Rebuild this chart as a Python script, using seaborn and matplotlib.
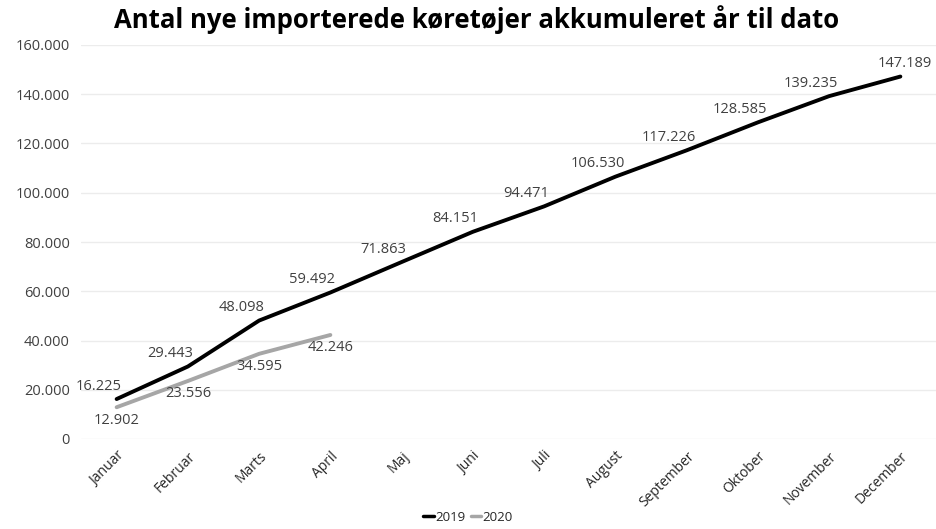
import pandas as pd
import matplotlib.pyplot as plt
import seaborn as sns
from matplotlib.lines import Line2D

months = ["Januar", "Februar", "Marts", "April", "Maj", "Juni", "Juli",
          "August", "September", "Oktober", "November", "December"]
values_2019 = [16225, 29443, 48098, 59492, 71863, 84151, 94471,
               106530, 117226, 128585, 139235, 147189]
values_2020 = [12902, 23556, 34595, 42246]

df = pd.concat([
    pd.DataFrame({"month": months, "value": values_2019, "year": "2019"}),
    pd.DataFrame({"month": months[:4], "value": values_2020, "year": "2020"}),
])
df["pos"] = df["month"].map({m: i for i, m in enumerate(months)})

sns.set_style("white")
plt.rcParams["font.family"] = ["Open Sans", "DejaVu Sans"]

fig = plt.figure(figsize=(9.36, 5.29), dpi=100)
ax = fig.add_axes([81 / 936, 1 - 439 / 529, 855 / 936, 394 / 529])

palette = {"2019": "#000000", "2020": "#a6a6a6"}
sns.lineplot(data=df, x="pos", y="value", hue="year", palette=palette,
             linewidth=2.8, ax=ax, legend=False)


def fmt(v):
    return f"{v:,}".replace(",", ".")


ax.set_xlim(-0.5, 11.5)
ax.set_ylim(0, 160000)
yticks = list(range(0, 160001, 20000))
ax.set_yticks(yticks)
ax.set_yticklabels([fmt(v) for v in yticks], fontsize=10.5, color="#404040")
ax.set_xticks(range(12))
ax.set_xticklabels(months, rotation=45, ha="right", rotation_mode="anchor",
                   fontsize=10, color="#262626")
ax.tick_params(axis="y", length=0, pad=8)
ax.tick_params(axis="x", length=0, pad=7)
ax.grid(axis="y", color="#ececec", linewidth=1)
for s in ax.spines.values():
    s.set_visible(False)
ax.set_xlabel("")
ax.set_ylabel("")

for i, v in enumerate(values_2019):
    dx = 4 if i == 11 else -18
    ax.annotate(fmt(v), (i, v), xytext=(dx, 13), textcoords="offset pixels",
                ha="center", va="center", fontsize=10.5, color="#404040")
for i, v in enumerate(values_2020):
    ax.annotate(fmt(v), (i, v), xytext=(0, -13), textcoords="offset pixels",
                ha="center", va="center", fontsize=10.5, color="#404040")

fig.text(0.509, 0.963, "Antal nye importerede køretøjer akkumuleret år til dato",
         ha="center", va="center", fontsize=18.5, fontweight="bold", color="#000000")

handles = [Line2D([0], [0], color=palette[y], linewidth=2.5) for y in ["2019", "2020"]]
fig.legend(handles, ["2019", "2020"], loc="center", bbox_to_anchor=(0.5, 0.022),
           ncol=2, frameon=False, fontsize=9.5, handlelength=0.8, handletextpad=0.1,
           columnspacing=0.4)

fig.savefig("out.png", dpi=100)
